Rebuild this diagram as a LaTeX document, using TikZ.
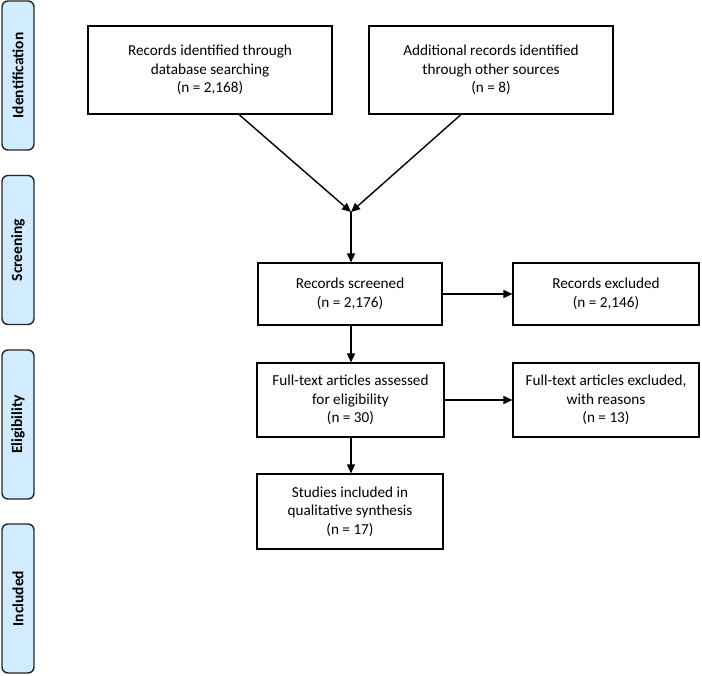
\documentclass[tikz,border=0pt]{standalone}
\usepackage{fontspec}
\setmainfont{Carlito}
\usepackage{tikz}
\usetikzlibrary{arrows.meta}
\usetikzlibrary{positioning}
\tikzset{flow/.style = {-{Triangle[length=9pt,width=8pt]}, line width=1.4pt}}
\tikzset{stagebar/.style = {draw=black!85, line width=1.4pt, fill=sidebl, rounded corners=6pt,
                            rotate=90, minimum width=149pt, minimum height=32pt,
                            font=\fontsize{15.5}{17}\selectfont\bfseries}}
\tikzset{recbox/.style = {draw, line width=1.1pt, align=center, inner sep=2pt,
                          font=\fontsize{15.2}{18.5}\selectfont}}
\definecolor{sidebl}{rgb}{0.82, 0.92, 1.0}

\begin{document}
\begin{tikzpicture}[x=1pt, y=-1pt]
    \useasboundingbox (0, 0) rectangle (702, 676);

    \foreach \lab/\yc/\nm in {Identification/75.5/ident, Screening/250/screen,
                              Eligibility/424.5/elig, Included/598.5/incl}
        \node [stagebar] (\nm) at (18, \yc) {\lab};

    \node [recbox, minimum width=244pt, minimum height=88pt] (dbrec) at (210, 70)
        {Records identified through\\database searching\\(n = 2,168)};
    \node [recbox, minimum width=244pt, minimum height=88pt] (otherrec) at (491, 70)
        {Additional records identified\\through other sources\\(n = 8)};

    \node [recbox, minimum width=184pt, minimum height=62pt] (screened) at (350, 294)
        {Records screened\\(n = 2,176)};
    \node [recbox, minimum width=186pt, minimum height=62pt] (excluded) at (606, 294)
        {Records excluded\\(n = 2,146)};

    \node [recbox, minimum width=187pt, minimum height=74pt] (fulltext) at (350.5, 400)
        {Full-text articles assessed\\for eligibility\\(n = 30)};
    \node [recbox, minimum width=186pt, minimum height=74pt] (ftexcl) at (606, 400)
        {Full-text articles excluded,\\with reasons\\(n = 13)};

    \node [recbox, minimum width=186pt, minimum height=75pt] (included) at (350, 511.5)
        {Studies included in\\qualitative synthesis\\(n = 17)};

    \coordinate (merge) at (351, 212);

    \draw [flow] ([xshift=29pt]dbrec.south) -- (merge);
    \draw [flow] ([xshift=-30pt]otherrec.south) -- (merge);
    \draw [flow] (merge) -- (merge |- screened.north);
    \draw [flow] (screened) -- (excluded);
    \draw [flow] (screened.south -| merge) -- (fulltext.north -| merge);
    \draw [flow] (fulltext) -- (ftexcl);
    \draw [flow] (fulltext.south -| merge) -- (included.north -| merge);
\end{tikzpicture}
\end{document}
